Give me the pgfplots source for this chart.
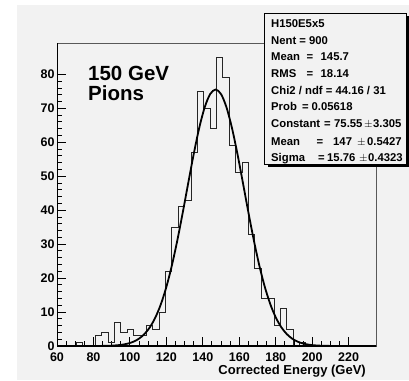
\documentclass[border=0pt]{standalone}
\usepackage{fontspec}
\setmainfont{Liberation Sans}
\usepackage{pgfplots}
\pgfplotsset{compat=1.18}
\definecolor{bg}{RGB}{242,242,242}
\newcommand{\Y}[1]{\dimexpr380pt-#1pt\relax}
\begin{document}
\begin{tikzpicture}[x=1pt,y=1pt]
\fill[white] (0,0) rectangle (409,380);
\fill[bg] (17,0) rectangle (409,375);
\begin{axis}[
  at={(57pt,34pt)}, anchor=south west,
  scale only axis, width=319pt, height=303pt,
  xmin=60, xmax=235, ymin=0, ymax=89.25,
  xtick={60,80,...,220}, ytick={0,10,...,80},
  minor x tick num=3, minor y tick num=4,
  xtick pos=bottom, ytick pos=left,
  tick align=inside,
  major tick length=9pt, minor tick length=5pt,
  every tick/.style={black, line width=0.9pt},
  axis line style={draw=black!65, line width=0.8pt},
  /pgf/number format/assume math mode=true,
  ticklabel style={font=\fontsize{12.5}{14}\selectfont\bfseries},
  xticklabel style={yshift=-3pt},
  yticklabel style={xshift=1pt},
  clip=true,
]
\addplot[const plot, draw=black!85, line width=0.8pt] coordinates {
(60,0) (63.5,0) (67,0) (70.5,1) (74,0) (77.5,0) (81,3) (84.5,4) (88,1)
(91.5,7) (95,4) (98.5,5) (102,3) (105.5,3) (109,6) (112.5,5) (116,10)
(119.5,22) (123,35) (126.5,41) (130,43) (133.5,57) (137,75) (140.5,70)
(144,64) (147.5,85) (151,79) (154.5,59) (158,51) (161.5,54) (165,33)
(168.5,23) (172,14) (175.5,14) (179,6) (182.5,11) (186,5) (189.5,0)
(193,1) (196.5,0) (200,0) (235,0)
};
\addplot[smooth, black, line width=1.8pt] coordinates {
(60,0) (75,0.003) (84,0.026) (87,0.054) (90,0.109) (93,0.213) (96,0.402)
(99,0.731) (102,1.28) (105,2.17) (108,3.54) (111,5.56) (114,8.44)
(117,12.34) (120,17.41) (123,23.69) (126,31.09) (129,39.35) (132,48.03)
(135,56.54) (138,64.18) (141,70.27) (144,74.19) (147,75.55) (150,74.19)
(153,70.27) (156,64.18) (159,56.54) (162,48.03) (165,39.35) (168,31.09)
(171,23.69) (174,17.41) (177,12.34) (180,8.44) (183,5.56) (186,3.54)
(189,2.17) (192,1.28) (195,0.731) (198,0.402) (201,0.213) (204,0.109)
(207,0.054) (210,0.026) (219,0.003) (235,0)
};
\draw[black, line width=1.4pt] (rel axis cs:0,0) -- (rel axis cs:1,0);
\draw[black, line width=1.4pt] (rel axis cs:0,0) -- (rel axis cs:0,1);
\end{axis}
% title text
\node[anchor=north west, align=left, inner sep=0pt,
      font=\fontsize{20.5}{19.5}\selectfont\bfseries] at (88,\Y{66}) {150 GeV\\Pions};
% x label
\node[anchor=base east, inner sep=0pt, font=\fontsize{13}{15}\selectfont\bfseries]
  at (366,\Y{374}) {Corrected Energy (GeV)};
% stats box
\fill[black] (268,\Y{167}) rectangle (409,\Y{163});
\fill[black] (406,\Y{167}) rectangle (409,\Y{16});
\filldraw[fill=bg, draw=black, line width=0.8pt] (264,\Y{13}) rectangle (406,\Y{164});
\begin{scope}[every node/.style={anchor=base west, inner sep=0pt,
   font=\fontsize{11.3}{13}\selectfont\bfseries}]
\node at (271,\Y{28}) {H150E5x5};
\node at (271,\Y{45}) {Nent = 900};
\node at (271,\Y{61}) {Mean};
\node at (306.5,\Y{61}) {=};
\node at (320.5,\Y{61}) {145.7};
\node at (271,\Y{78}) {RMS};
\node at (306.5,\Y{78}) {=};
\node at (320.5,\Y{78}) {18.14};
\node at (271,\Y{95}) {Chi2 / ndf = 44.16 / 31};
\node at (271,\Y{111}) {Prob};
\node at (302,\Y{111}) {=};
\node at (311.5,\Y{111}) {0.05618};
\node at (271,\Y{128}) {Constant};
\node at (324,\Y{128}) {=};
\node at (334,\Y{128}) {75.55};
\node at (364,\Y{128}) {$\pm$};
\node at (373,\Y{128}) {3.305};
\node at (271,\Y{146}) {Mean};
\node at (316.5,\Y{146}) {=};
\node at (333,\Y{146}) {147};
\node at (357,\Y{146}) {$\pm$};
\node at (367,\Y{146}) {0.5427};
\node at (271,\Y{162}) {Sigma};
\node at (318,\Y{162}) {=};
\node at (327,\Y{162}) {15.76};
\node at (359,\Y{162}) {$\pm$};
\node at (368,\Y{162}) {0.4323};
\end{scope}
\end{tikzpicture}
\end{document}
